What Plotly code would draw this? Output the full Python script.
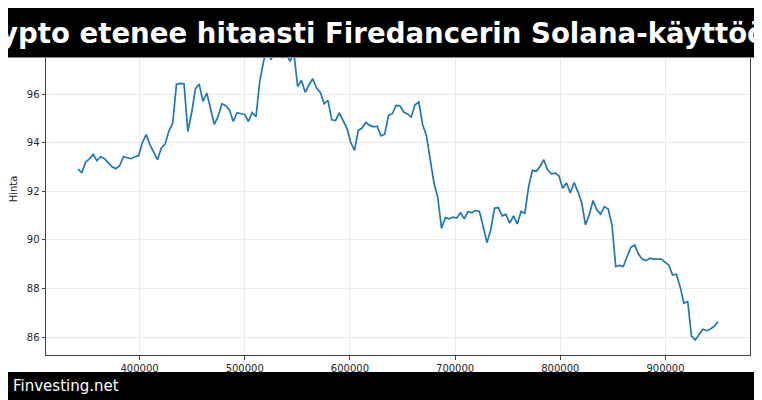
import plotly.graph_objects as go

# sample index (x axis) and price readings
x_start = 341500
x_step = 3600

hinta = [
    92.91, 92.77, 93.20, 93.33, 93.52, 93.26, 93.42, 93.34, 93.17, 93.01,
    92.93, 93.05, 93.42, 93.39, 93.34, 93.42, 93.46, 94.01, 94.33, 93.91,
    93.57, 93.30, 93.78, 93.94, 94.48, 94.79, 96.40, 96.44, 96.42, 94.46,
    95.22, 96.21, 96.41, 95.70, 96.04, 95.35, 94.75, 95.08, 95.60, 95.52,
    95.35, 94.87, 95.23, 95.19, 95.16, 94.87, 95.24, 95.07, 96.52, 97.34,
    97.95, 97.41, 98.00, 98.30, 97.48, 97.65, 97.34, 97.70, 96.31, 96.56,
    96.07, 96.38, 96.63, 96.25, 96.07, 95.60, 95.74, 94.94, 94.91, 95.22,
    94.90, 94.60, 94.02, 93.68, 94.50, 94.60, 94.83, 94.71, 94.65, 94.68,
    94.28, 94.35, 95.12, 95.19, 95.53, 95.52, 95.26, 95.18, 95.05, 95.56,
    95.67, 94.74, 94.30, 93.23, 92.34, 91.75, 90.48, 90.92, 90.87, 90.94,
    90.90, 91.12, 90.87, 91.17, 91.12, 91.21, 91.17, 90.55, 89.89, 90.42,
    91.31, 91.33, 90.99, 91.05, 90.69, 90.99, 90.66, 91.17, 91.10, 92.20,
    92.86, 92.82, 93.02, 93.30, 92.88, 92.72, 92.75, 92.64, 92.13, 92.34,
    91.93, 92.36, 91.99, 91.54, 90.62, 91.03, 91.62, 91.24, 91.06, 91.37,
    91.27, 90.62, 88.91, 88.95, 88.91, 89.32, 89.70, 89.79, 89.42, 89.21,
    89.15, 89.25, 89.21, 89.21, 89.21, 89.09, 88.97, 88.56, 88.59, 88.08,
    87.40, 87.47, 86.05, 85.89, 86.09, 86.33, 86.27, 86.34, 86.45, 86.64,
]

x_ticks = [400000, 500000, 600000, 700000, 800000, 900000]
y_ticks = [86, 88, 90, 92, 94, 96]

title_text = "Krypto etenee hitaasti Firedancerin Solana-käyttöönotossa"
brand_text = "Finvesting.net"
y_label = "Hinta"

x = [x_start + x_step * i for i in range(len(hinta))]

# the page body adds an 8px margin, so lay the figure out shifted back by it
OFF = 8
W, H = 762, 400
# plot area wanted on screen: left 46, right 750.5, top 23.3, bottom 355
L, T = 46 - OFF, 23 - OFF
R = W - (750.5 - OFF)
B = H - (355 - OFF)
pw = W - L - R
ph = H - T - B


def px_x(sx):
    # screen x -> paper x
    return (sx - OFF - L) / pw


def px_y(sy):
    # screen y -> paper y
    return (H - B - (sy - OFF)) / ph


def padded(lo, hi, frac=0.05):
    span = hi - lo
    return [lo - frac * span, hi + frac * span]


fig = go.Figure()
fig.add_trace(go.Scatter(
    x=x, y=hinta, mode="lines",
    line=dict(color="#1f77b4", width=1.7),
    hoverinfo="skip",
))

axis_common = dict(
    automargin=False,
    showline=True, mirror=True, linecolor="#444", linewidth=1,
    ticks="outside", ticklen=3.5, tickwidth=0.8, tickcolor="#444",
    showgrid=True, gridcolor="#ebebeb", gridwidth=0.8,
    zeroline=False,
    tickfont=dict(family="DejaVu Sans", size=10, color="#262626"),
)

fig.update_layout(
    template="none",
    width=W, height=H,
    margin=dict(l=L, r=R, t=T, b=B, autoexpand=False),
    paper_bgcolor="white", plot_bgcolor="white",
    showlegend=False,
    font=dict(family="DejaVu Sans", color="#262626"),
    xaxis=dict(
        range=padded(x[0], x[-1]), tickvals=x_ticks, tickformat="d",
        **axis_common,
    ),
    yaxis=dict(
        range=padded(min(hinta), max(hinta)), tickvals=y_ticks,
        title=dict(text=y_label, font=dict(size=10), standoff=9),
        **axis_common,
    ),
)

# black bands over top and bottom, as in the source image
fig.add_shape(type="rect", xref="paper", yref="paper",
              x0=px_x(-20), x1=px_x(W + 20), y0=px_y(57), y1=px_y(-20),
              fillcolor="black", line_width=0, layer="above")
fig.add_shape(type="line", xref="paper", yref="paper",
              x0=px_x(-20), x1=px_x(W + 20), y0=px_y(57.5), y1=px_y(57.5),
              line=dict(color="#888", width=1), layer="above")
fig.add_shape(type="rect", xref="paper", yref="paper",
              x0=px_x(-20), x1=px_x(W + 20), y0=px_y(H + 20), y1=px_y(372),
              fillcolor="black", line_width=0, layer="above")

fig.add_annotation(
    text="<b>" + title_text + "</b>", xref="paper", yref="paper",
    x=px_x(-37), y=px_y(34), xanchor="left", yanchor="middle",
    showarrow=False,
    font=dict(family="DejaVu Sans", size=27.6, color="white"),
)
fig.add_annotation(
    text=brand_text, xref="paper", yref="paper",
    x=px_x(11), y=px_y(386), xanchor="left", yanchor="middle",
    showarrow=False,
    font=dict(family="DejaVu Sans", size=15, color="white"),
)

fig.write_html("out.html")
